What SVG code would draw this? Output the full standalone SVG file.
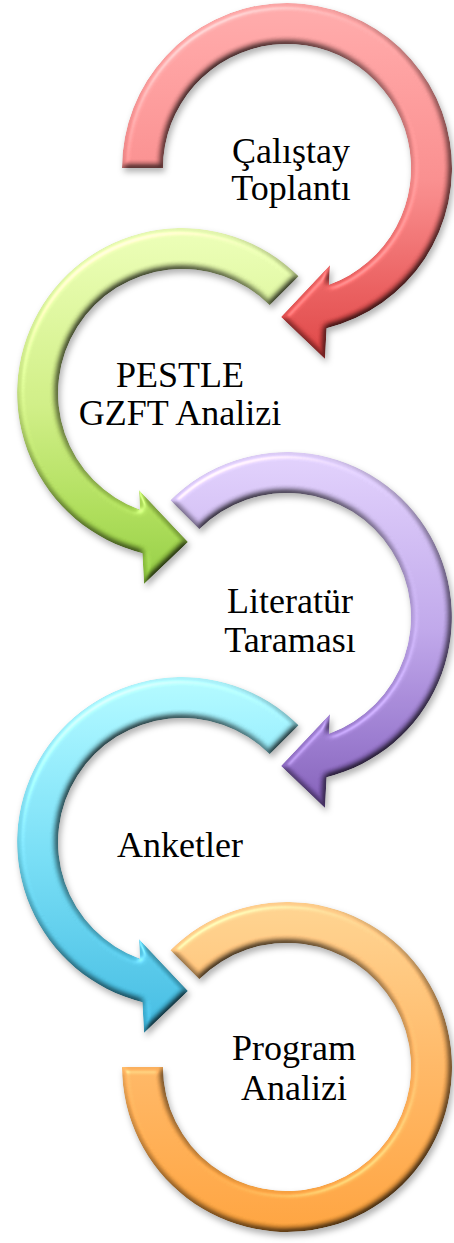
<svg xmlns="http://www.w3.org/2000/svg" width="454" height="1243" viewBox="0 0 454 1243">
<style>
.lbl{font-family:"Liberation Serif","DejaVu Serif",serif;font-size:36px;fill:#000;text-anchor:middle}
.arw{filter:url(#bevel)}
</style>
<defs>
<filter id="bevel" x="-10%" y="-10%" width="130%" height="130%" color-interpolation-filters="sRGB">
<feGaussianBlur in="SourceAlpha" stdDeviation="3" result="b"/>
<feDiffuseLighting in="b" surfaceScale="4" diffuseConstant="1.15" lighting-color="#ffffff" result="d">
<feDistantLight azimuth="235" elevation="60"/>
</feDiffuseLighting>
<feComposite in="SourceGraphic" in2="d" operator="arithmetic" k1="1" k2="0" k3="0" k4="0" result="sh"/>
<feSpecularLighting in="b" surfaceScale="4" specularConstant="0.22" specularExponent="25" lighting-color="#ffffff" result="s">
<feDistantLight azimuth="235" elevation="50"/>
</feSpecularLighting>
<feComposite in="s" in2="SourceAlpha" operator="in" result="s2"/>
<feComposite in="sh" in2="s2" operator="arithmetic" k1="0" k2="1" k3="1" k4="0" result="lit"/>
<feComposite in="lit" in2="SourceAlpha" operator="in" result="lit2"/>
<feGaussianBlur in="SourceAlpha" stdDeviation="3" result="sb"/>
<feOffset in="sb" dx="2" dy="4" result="so"/>
<feFlood flood-color="#000" flood-opacity="0.3"/>
<feComposite in2="so" operator="in" result="shadow"/>
<feMerge><feMergeNode in="shadow"/><feMergeNode in="lit2"/></feMerge>
</filter>
<linearGradient id="gRed" x1="0" y1="0" x2="0" y2="1">
<stop offset="0" stop-color="#F6A2A2"/><stop offset="0.5" stop-color="#EF8585"/><stop offset="0.8" stop-color="#E05656"/><stop offset="1" stop-color="#D43C3C"/>
</linearGradient>
<linearGradient id="gGreen" x1="0" y1="0" x2="0" y2="1">
<stop offset="0" stop-color="#E2F4AE"/><stop offset="0.5" stop-color="#C6E47C"/><stop offset="0.8" stop-color="#A4D350"/><stop offset="1" stop-color="#8BC43C"/>
</linearGradient>
<linearGradient id="gPurple" x1="0" y1="0" x2="0" y2="1">
<stop offset="0" stop-color="#D8C8F2"/><stop offset="0.5" stop-color="#B69EE0"/><stop offset="0.8" stop-color="#9272C6"/><stop offset="1" stop-color="#7A56AE"/>
</linearGradient>
<linearGradient id="gCyan" x1="0" y1="0" x2="0" y2="1">
<stop offset="0" stop-color="#AAF0F7"/><stop offset="0.5" stop-color="#6ED4EB"/><stop offset="0.8" stop-color="#4EBFDF"/><stop offset="1" stop-color="#3AB2D9"/>
</linearGradient>
<linearGradient id="gOrange" x1="0" y1="0" x2="0" y2="1">
<stop offset="0" stop-color="#FBCA88"/><stop offset="0.5" stop-color="#F8AE5C"/><stop offset="1" stop-color="#F39A36"/>
</linearGradient>
</defs>
<g id="connectors"/>
<g id="node1">
<path class="arw" fill="url(#gRed)" d="M122,168 A165,165 0 1 1 326.6,328.2 L325,359 L281,317 L330,265 L329,284.7 A124,124 0 1 0 163,168 Z"/>
<text class="lbl" x="291" y="163">Çalıştay</text>
<text class="lbl" x="291" y="200">Toplantı</text>
</g>
<g id="node2">
<path class="arw" fill="url(#gGreen)" d="M298.7,276.3 A165,165 0 1 0 142.4,553.2 L144,584 L188,542 L139,490 L140,509.7 A124,124 0 1 1 269.7,305.3 Z"/>
<text class="lbl" x="180" y="387">PESTLE</text>
<text class="lbl" x="180" y="425">GZFT Analizi</text>
</g>
<g id="node3">
<path class="arw" fill="url(#gPurple)" d="M170.3,500.3 A165,165 0 1 1 326.6,777.2 L325,808 L281,766 L330,714 L329,733.7 A124,124 0 1 0 199.3,529.3 Z"/>
<text class="lbl" x="290" y="613">Literatür</text>
<text class="lbl" x="290" y="652">Taraması</text>
</g>
<g id="node4">
<path class="arw" fill="url(#gCyan)" d="M298.7,725.3 A165,165 0 1 0 142.4,1002.2 L144,1033 L188,991 L139,939 L140,958.7 A124,124 0 1 1 269.7,754.3 Z"/>
<text class="lbl" x="180" y="857">Anketler</text>
</g>
<g id="node5">
<path class="arw" fill="url(#gOrange)" d="M170.3,950.3 A165,165 0 1 1 122,1067 L163,1067 A124,124 0 1 0 199.3,979.3 Z"/>
<text class="lbl" x="294" y="1060">Program</text>
<text class="lbl" x="294" y="1100">Analizi</text>
</g>
</svg>
